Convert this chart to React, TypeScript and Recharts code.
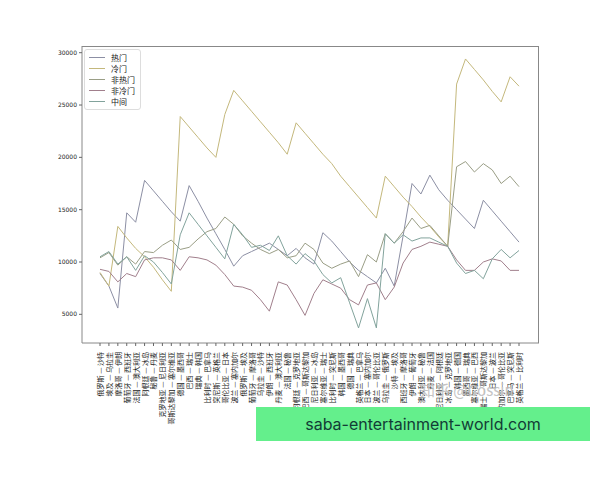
import { Line, LineChart, XAxis, YAxis } from "recharts";

// 2018 世界杯小组赛，按比赛时间排列
const matches = [
  "俄罗斯 — 沙特", "埃及 — 乌拉圭", "摩洛哥 — 伊朗", "葡萄牙 — 西班牙", "法国 — 澳大利亚",
  "阿根廷 — 冰岛", "秘鲁 — 丹麦", "克罗地亚 — 尼日利亚", "哥斯达黎加 — 塞尔维亚", "德国 — 墨西哥",
  "巴西 — 瑞士", "瑞典 — 韩国", "比利时 — 巴拿马", "突尼斯 — 英格兰", "哥伦比亚 — 日本",
  "波兰 — 塞内加尔", "俄罗斯 — 埃及", "葡萄牙 — 摩洛哥", "乌拉圭 — 沙特", "伊朗 — 西班牙",
  "丹麦 — 澳大利亚", "法国 — 秘鲁", "阿根廷 — 克罗地亚", "巴西 — 哥斯达黎加", "尼日利亚 — 冰岛",
  "塞尔维亚 — 瑞士", "比利时 — 突尼斯", "韩国 — 墨西哥", "德国 — 瑞典", "英格兰 — 巴拿马",
  "日本 — 塞内加尔", "波兰 — 哥伦比亚", "乌拉圭 — 俄罗斯", "沙特 — 埃及", "西班牙 — 摩洛哥",
  "伊朗 — 葡萄牙", "澳大利亚 — 秘鲁", "丹麦 — 法国", "尼日利亚 — 阿根廷", "冰岛 — 克罗地亚",
  "韩国 — 德国", "墨西哥 — 瑞典", "塞尔维亚 — 巴西", "瑞士 — 哥斯达黎加", "日本 — 波兰",
  "塞内加尔 — 哥伦比亚", "巴拿马 — 突尼斯", "英格兰 — 比利时",
];

const hot = [
  8900, 7700, 5600, 14700, 13800, 17800, 16800, 15800, 14800, 13900, 17300, 15800, 14200, 12700, 11200, 9600,
  10600, 11000, 11400, 11800, 11200, 10600, 11300, 10400, 9800, 12800, 12000, 11000, 10000, 9200, 8600, 8000,
  9400, 7700, 12500, 17500, 16500, 18300, 16900, 15900, 15000, 14100, 13200, 15900, 14900, 13900, 12900, 11900,
];
const cold = [
  9000, 7700, 13400, 12300, 11300, 10500, 9500, 8300, 7200, 23900, 22900, 21900, 20900, 20000, 24100, 26400,
  25400, 24400, 23400, 22400, 21400, 20300, 23300, 22300, 21300, 20300, 19400, 18200, 17200, 16200, 15200, 14200,
  18200, 17200, 16200, 15300, 14300, 13400, 12400, 11500, 27000, 29400, 28400, 27400, 26300, 25300, 27700, 26800,
];
const notHot = [
  10400, 10900, 9700, 10500, 9800, 11000, 10900, 11600, 12100, 11200, 11400, 12200, 12900, 13200, 14300, 13600,
  12500, 11800, 11200, 10800, 11200, 10400, 10600, 11800, 11200, 9900, 9400, 9800, 10100, 8600, 10700, 10000,
  12700, 11800, 12900, 14200, 13200, 13500, 12500, 11500, 19100, 19600, 18600, 19400, 18800, 17500, 18200, 17200,
];
const notCold = [
  9300, 9100, 8100, 8900, 8600, 10200, 10400, 10400, 10200, 9200, 10500, 10400, 10200, 9700, 8800, 7700,
  7600, 7300, 6400, 5300, 8100, 7800, 6400, 4900, 7000, 8300, 7900, 7500, 6400, 5900, 7800, 8000,
  6400, 7600, 9900, 11200, 11500, 11900, 11700, 11500, 10200, 9200, 9200, 10000, 10300, 10100, 9200, 9200,
];
const middle = [
  10500, 11000, 9800, 10500, 9200, 10600, 10000, 9000, 7900, 12600, 14700, 13600, 12500, 11400, 10300, 13600,
  12600, 11400, 11600, 11100, 12500, 10600, 9800, 10800, 10100, 8800, 8000, 8500, 6100, 3700, 6500, 3700,
  12700, 11800, 12600, 12000, 12300, 12300, 11900, 11500, 9900, 8900, 9200, 8400, 10300, 11200, 10400, 11100,
];

const yTicks = [5000, 10000, 15000, 20000, 25000, 30000];

const series = [
  { key: "热门", values: hot, color: "#8c8fa4" },
  { key: "冷门", values: cold, color: "#c4b87c" },
  { key: "非热门", values: notHot, color: "#9a9e86" },
  { key: "非冷门", values: notCold, color: "#a17f8c" },
  { key: "中间", values: middle, color: "#82a39c" },
];

const data = matches.map((m, i) => {
  const row: Record<string, string | number> = { match: m };
  series.forEach((s) => (row[s.key] = s.values[i]));
  return row;
});

const cjk = '"Noto Sans CJK SC", "Noto Sans", sans-serif';

function MatchTick({ x, y, payload }: any) {
  const ty = y + 4;
  return (
    <text
      x={x}
      y={ty}
      transform={`rotate(-90 ${x} ${ty})`}
      textAnchor="end"
      dominantBaseline="central"
      fontSize={7}
      fill="#222"
      fontFamily={cjk}
    >
      {payload.value}
    </text>
  );
}

export default function App() {
  return (
    <div
      style={{
        position: "absolute",
        left: 0,
        top: 0,
        width: 600,
        height: 480,
        background: "#fff",
        overflow: "hidden",
      }}
    >
      <LineChart width={600} height={480} data={data} margin={{ top: 46, right: 61, bottom: 0, left: 0 }}>
        <XAxis
          dataKey="match"
          interval={0}
          height={137}
          padding={{ left: 18, right: 20 }}
          tick={<MatchTick />}
          tickSize={3}
          tickLine={{ stroke: "#666" }}
          axisLine={{ stroke: "#888" }}
        />
        <YAxis
          width={82}
          domain={[2260, 30640]}
          ticks={yTicks}
          allowDataOverflow
          tickSize={3}
          tickLine={{ stroke: "#666" }}
          axisLine={{ stroke: "#888" }}
          tick={{ fontSize: 6, fill: "#222", fontFamily: "DejaVu Sans" }}
        />
        {series.map((s) => (
          <Line
            key={s.key}
            dataKey={s.key}
            stroke={s.color}
            strokeWidth={1}
            dot={false}
            isAnimationActive={false}
          />
        ))}
      </LineChart>

      {/* top / right spines */}
      <div
        style={{
          position: "absolute",
          left: 82,
          top: 46,
          width: 457,
          height: 297,
          borderTop: "1px solid #888",
          borderRight: "1px solid #888",
          boxSizing: "border-box",
          pointerEvents: "none",
        }}
      />

      {/* legend */}
      <div
        style={{
          position: "absolute",
          left: 84,
          top: 49,
          padding: "2px 5px 2px 4px",
          border: "1px solid #ddd",
          borderRadius: 3,
          background: "rgba(255,255,255,0.85)",
          fontFamily: cjk,
          fontSize: 8,
          color: "#222",
        }}
      >
        {series.map((s) => (
          <div key={s.key} style={{ display: "flex", alignItems: "center", height: 11 }}>
            <span style={{ display: "inline-block", width: 16, height: 0, borderTop: `1px solid ${s.color}`, marginRight: 6 }} />
            {s.key}
          </div>
        ))}
      </div>

      {/* watermark */}
      <div
        style={{
          position: "absolute",
          left: 420,
          top: 379,
          fontFamily: cjk,
          fontSize: 15,
          color: "#c4c4c4",
        }}
      >
        知乎 @Cossin
      </div>

      {/* green banner */}
      <div
        style={{
          position: "absolute",
          left: 256,
          top: 407,
          width: 334,
          height: 34,
          background: "#64ef8c",
          display: "flex",
          alignItems: "center",
          justifyContent: "center",
          fontFamily: "Inter, sans-serif",
          fontSize: 16,
          color: "#123d36",
        }}
      >
        saba-entertainment-world.com
      </div>
    </div>
  );
}
